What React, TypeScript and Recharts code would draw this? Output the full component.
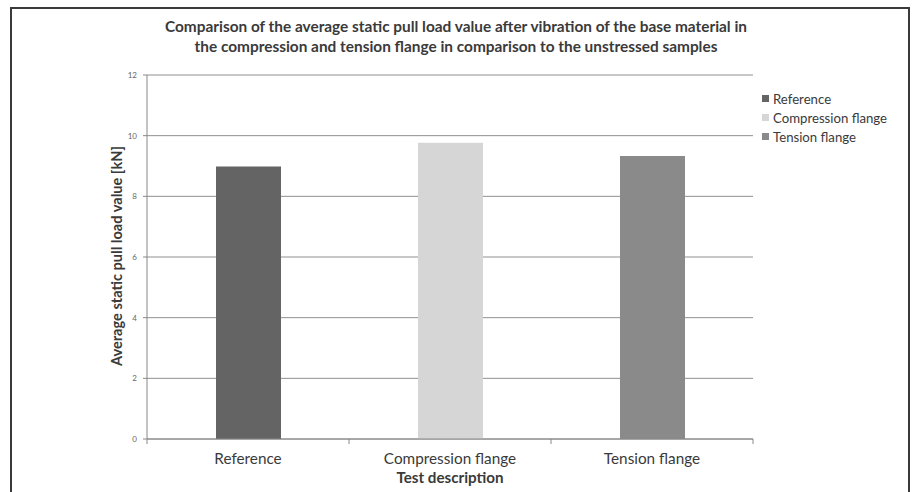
import React from "react";
import { BarChart, Bar, XAxis, YAxis, CartesianGrid } from "recharts";

const categories = ["Reference", "Compression flange", "Tension flange"];
const seriesKeys = ["Reference", "Compression flange", "Tension flange"];
const seriesValues = [8.98, 9.77, 9.33];
const seriesColors = ["#646464", "#d6d6d6", "#8a8a8a"];
const yTicks = [0, 2, 4, 6, 8, 10, 12];
const titleLines = [
  "Comparison of the average static pull load value after vibration of the base material in",
  "the compression and tension flange in comparison to the unstressed samples",
];
const yLabel = "Average static pull load value [kN]";
const xLabel = "Test description";

const data = categories.map((c, i) => {
  const row: Record<string, any> = { name: c };
  row[seriesKeys[i]] = seriesValues[i];
  return row;
});

const W = 912;
const H = 492;
const PLOT_LEFT = 147;
const PLOT_RIGHT = 753;
const PLOT_TOP = 75;
const PLOT_BOTTOM = 439;
const BAND = (PLOT_RIGHT - PLOT_LEFT) / categories.length;
const FONT = "Lato, 'Open Sans', sans-serif";

const XTick = (props: any) => {
  const { x, payload, index } = props;
  return (
    <g>
      <line x1={x - BAND / 2} x2={x - BAND / 2} y1={PLOT_BOTTOM} y2={PLOT_BOTTOM + 5} stroke="#888" />
      {index === categories.length - 1 && (
        <line x1={x + BAND / 2} x2={x + BAND / 2} y1={PLOT_BOTTOM} y2={PLOT_BOTTOM + 5} stroke="#888" />
      )}
      <text x={x} y={PLOT_BOTTOM + 25} textAnchor="middle" fontSize={15.3} fill="#3a3a3a" fontFamily={FONT}>
        {payload.value}
      </text>
    </g>
  );
};

export default function App() {
  return (
    <div
      style={{
        position: "absolute",
        left: 0,
        top: 0,
        width: W,
        height: H,
        overflow: "hidden",
        background: "#fff",
        fontFamily: FONT,
      }}
    >
      <div
        style={{
          position: "absolute",
          left: 10,
          top: 7,
          width: 900,
          height: 520,
          border: "2px solid #3a3a3a",
          boxSizing: "border-box",
        }}
      />
      <div
        style={{
          position: "absolute",
          left: 0,
          top: 16,
          width: 912,
          textAlign: "center",
          fontWeight: 700,
          fontSize: 15.4,
          lineHeight: "20px",
          color: "#3a3a3a",
        }}
      >
        {titleLines.map((t, i) => (
          <div key={i}>{t}</div>
        ))}
      </div>
      <div
        style={{
          position: "absolute",
          left: 117 - 150,
          top: 256 - 10,
          width: 300,
          height: 20,
          lineHeight: "20px",
          textAlign: "center",
          transform: "rotate(-90deg)",
          fontWeight: 700,
          fontSize: 14.6,
          color: "#3a3a3a",
        }}
      >
        {yLabel}
      </div>
      <div
        style={{
          position: "absolute",
          left: PLOT_LEFT,
          width: PLOT_RIGHT - PLOT_LEFT,
          top: 467,
          textAlign: "center",
          fontWeight: 700,
          fontSize: 15.2,
          lineHeight: "20px",
          color: "#3a3a3a",
        }}
      >
        {xLabel}
      </div>
      <div
        style={{
          position: "absolute",
          left: 762,
          top: 89,
          fontSize: 13.2,
          color: "#3a3a3a",
        }}
      >
        {seriesKeys.map((k, i) => (
          <div key={k} style={{ display: "flex", alignItems: "center", height: 19 }}>
            <span
              style={{
                display: "inline-block",
                width: 7,
                height: 7,
                background: seriesColors[i],
                marginRight: 4,
              }}
            />
            <span>{k}</span>
          </div>
        ))}
      </div>
      <div style={{ position: "absolute", left: 0, top: 0 }}>
        <BarChart
          width={W}
          height={H}
          data={data}
          margin={{ top: PLOT_TOP, right: W - PLOT_RIGHT, bottom: 23, left: PLOT_LEFT - 40 }}
        >
          <CartesianGrid vertical={false} stroke="#909090" strokeWidth={1} />
          <XAxis
            dataKey="name"
            height={H - PLOT_BOTTOM - 23}
            stroke="#888"
            tickLine={false}
            tick={<XTick />}
            interval={0}
          />
          <YAxis
            width={40}
            domain={[0, 12]}
            ticks={yTicks}
            stroke="#888"
            tickSize={4}
            tickMargin={6}
            tick={{ fontSize: 8, fill: "#666", fontFamily: FONT }}
          />
          {seriesKeys.map((k, i) => (
            <Bar
              key={k}
              dataKey={k}
              stackId="a"
              fill={seriesColors[i]}
              barSize={65}
              isAnimationActive={false}
            />
          ))}
        </BarChart>
      </div>
    </div>
  );
}
